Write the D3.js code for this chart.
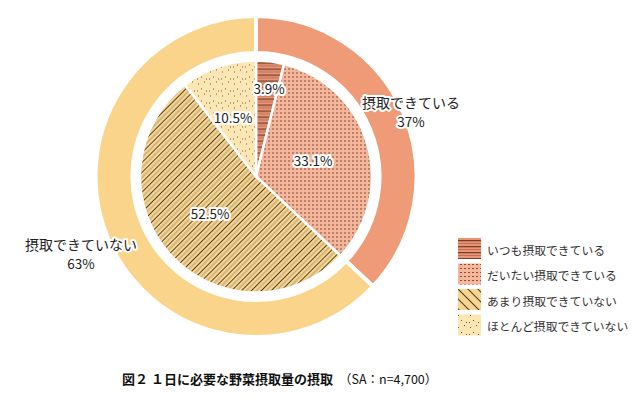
<!DOCTYPE html>
<html><head><meta charset="utf-8">
<script src="https://cdn.jsdelivr.net/npm/d3@7"></script>
<style>
body{margin:0;background:#fff;}
text{font-family:"Noto Sans CJK JP","Noto Sans",sans-serif;}
</style></head>
<body><svg id="c" width="640" height="404"></svg>
<script>
const outerLabels = ["摂取できている", "摂取できていない"];
const outerValues = [37, 63];
const innerLabels = ["いつも摂取できている", "だいたい摂取できている", "あまり摂取できていない", "ほとんど摂取できていない"];
const innerValues = [3.9, 33.1, 52.5, 10.5];
const titleMain = "図２ １日に必要な野菜摂取量の摂取";
const titleSub = "（SA：n=4,700）";

const svg = d3.select("#c");
const cx = 256, cy = 176.5;
const defs = svg.append("defs");

// patterns
const p1 = defs.append("pattern").attr("id","pA").attr("patternUnits","userSpaceOnUse").attr("width",6).attr("height",6);
p1.append("rect").attr("width",6).attr("height",6).attr("fill","#EA9676");
p1.append("rect").attr("y",0).attr("width",6).attr("height",1.3).attr("fill","#7a3f2e");
p1.append("rect").attr("y",3).attr("width",6).attr("height",1).attr("fill","#c07058");

const p2 = defs.append("pattern").attr("id","pB").attr("patternUnits","userSpaceOnUse").attr("width",4).attr("height",4);
p2.append("rect").attr("width",4).attr("height",4).attr("fill","#F4B79C");
p2.append("rect").attr("x",0).attr("y",0).attr("width",2).attr("height",1).attr("fill","#8a4a38");

const p3 = defs.append("pattern").attr("id","pC").attr("patternUnits","userSpaceOnUse").attr("width",7).attr("height",7).attr("patternTransform","rotate(45)");
p3.append("rect").attr("width",7).attr("height",7).attr("fill","#F9D58E");
p3.append("rect").attr("x",0).attr("width",1).attr("height",7).attr("fill","#4f4230");
p3.append("rect").attr("x",3.5).attr("width",1).attr("height",7).attr("fill","#a89a78");

const p3b = defs.append("pattern").attr("id","pCl").attr("patternUnits","userSpaceOnUse").attr("width",7).attr("height",7).attr("patternTransform","rotate(-45)");
p3b.append("rect").attr("width",7).attr("height",7).attr("fill","#F9D58E");
p3b.append("rect").attr("x",0).attr("width",1).attr("height",7).attr("fill","#4f4230");

const p4 = defs.append("pattern").attr("id","pD").attr("patternUnits","userSpaceOnUse").attr("width",12).attr("height",12);
p4.append("rect").attr("width",12).attr("height",12).attr("fill","#FCE7B4");
[[2,3],[8,1],[5,8],[10,10],[1,10]].forEach(([x,y])=>p4.append("rect").attr("x",x).attr("y",y).attr("width",1).attr("height",1).attr("fill","#6b5a3a"));

const outerColors = ["#EF9B77", "#FAD48A"];
const innerFills = ["url(#pA)", "url(#pB)", "url(#pC)", "url(#pD)"];
const legendFills = ["url(#pA)", "url(#pB)", "url(#pCl)", "url(#pD)"];

const pie = d3.pie().sort(null).value(d=>d);
const g = svg.append("g").attr("transform",`translate(${cx},${cy})`);

const outerArc = d3.arc().innerRadius(123.5).outerRadius(160.5);
g.selectAll("path.o").data(pie(outerValues)).join("path").attr("class","o")
  .attr("d",outerArc).attr("fill",(d,i)=>outerColors[i]).attr("stroke","#fff").attr("stroke-width",4);

const innerArc = d3.arc().innerRadius(0).outerRadius(116);
g.selectAll("path.i").data(pie(innerValues)).join("path").attr("class","i")
  .attr("d",innerArc).attr("fill",(d,i)=>innerFills[i]).attr("stroke","#fff").attr("stroke-width",2.5);

function halo(sel){
  return sel.attr("stroke","#fff").attr("stroke-width",4).attr("stroke-linejoin","round").attr("paint-order","stroke").attr("fill","#222");
}
// inner labels
const innerPos = [[269,88],[313,160],[210,213],[233,117]];
innerValues.forEach((v,i)=>{
  halo(svg.append("text").attr("x",innerPos[i][0]).attr("y",innerPos[i][1]).attr("text-anchor","middle")
    .attr("dominant-baseline","central").attr("font-size",13.5).text(v.toFixed(1)+"%"));
});
// outer labels
const outerPos = [[411,102],[81,244]];
outerValues.forEach((v,i)=>{
  halo(svg.append("text").attr("x",outerPos[i][0]).attr("y",outerPos[i][1]).attr("text-anchor","middle")
    .attr("dominant-baseline","central").attr("font-size",14).text(outerLabels[i]));
  halo(svg.append("text").attr("x",outerPos[i][0]).attr("y",outerPos[i][1]+19).attr("text-anchor","middle")
    .attr("dominant-baseline","central").attr("font-size",13.5).text(v+"%"));
});

// legend
const lg = svg.append("g");
innerLabels.forEach((t,i)=>{
  const y = 238 + i*25.5;
  lg.append("rect").attr("x",458).attr("y",y).attr("width",23).attr("height",21).attr("fill",legendFills[i]);
  lg.append("text").attr("x",487).attr("y",y+11).attr("dominant-baseline","central").attr("font-size",11.8).attr("fill","#333").text(t);
});

// title
const tt = svg.append("text").attr("x",122).attr("y",378).attr("dominant-baseline","central").attr("font-size",13).attr("fill","#111");
tt.append("tspan").attr("font-weight","bold").text(titleMain);
tt.append("tspan").attr("dx",6).attr("font-size",12.5).text(titleSub);
</script></body></html>
